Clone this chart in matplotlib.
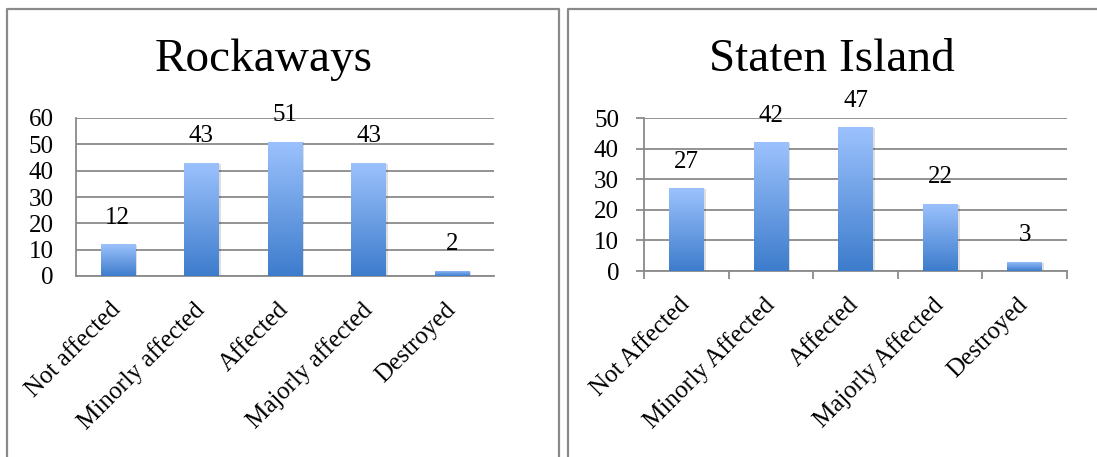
import numpy as np
import matplotlib
matplotlib.use("Agg")
import matplotlib.pyplot as plt
from matplotlib.colors import LinearSegmentedColormap
from matplotlib.lines import Line2D
from matplotlib.patches import Rectangle

# Survey of housing damage after the storm
rock_categories = ["Not affected", "Minorly affected", "Affected", "Majorly affected", "Destroyed"]
rock_values = [12, 43, 51, 43, 2]
rock_ticks = [0, 10, 20, 30, 40, 50, 60]

staten_categories = ["Not Affected", "Minorly Affected", "Affected", "Majorly Affected", "Destroyed"]
staten_values = [27, 42, 47, 22, 3]
staten_ticks = [0, 10, 20, 30, 40, 50]

W, H = 1097, 457
DPI = 100
fig = plt.figure(figsize=(W / DPI, H / DPI), dpi=DPI)
fig.patch.set_facecolor("white")

SERIF = ["Liberation Serif", "DejaVu Serif"]
GRAY = "#8a8a8a"
FS = 18
grad_cmap = LinearSegmentedColormap.from_list("bar", ["#3d7ccc", "#9cc2fd"])


def px_axes(x0, y0, x1, y1):
    return fig.add_axes([x0 / W, 1 - y1 / H, (x1 - x0) / W, (y1 - y0) / H])


def gradient_bars(ax, values):
    x = np.arange(len(values))
    bars = ax.bar(x, values, width=0.41, color="none", edgecolor="none", zorder=3)
    grad = np.linspace(0, 1, 256).reshape(-1, 1)
    for b, v in zip(bars, values):
        x0 = b.get_x()
        w = b.get_width()
        # soft drop shadow
        ax.add_patch(Rectangle((x0 + 0.025, -0.3), w, v, facecolor="#000000",
                               alpha=0.13, edgecolor="none", zorder=2.5))
        im = ax.imshow(grad, cmap=grad_cmap, origin="lower", aspect="auto",
                       extent=[x0, x0 + w, 0, v], zorder=3, interpolation="bilinear")
        im.set_clip_path(b)
        ax.annotate(str(v), xy=(b.get_x() + w / 2, v), xytext=(0, 19),
                    textcoords="offset points", ha="center", va="center",
                    fontsize=FS, family=SERIF, color="black", zorder=5)
    return bars


def style_axes(ax, categories, ticks, ymax, ytick_marks, xtick_marks):
    ax.set_xlim(-0.5, len(categories) - 0.5)
    ax.set_ylim(0, ymax)
    ax.set_yticks(ticks)
    ax.set_yticklabels([str(t) for t in ticks], family=SERIF, fontsize=FS)
    ax.yaxis.grid(True, color=GRAY, linewidth=1.3, zorder=0)
    ax.set_axisbelow(True)
    for s in ["top", "right"]:
        ax.spines[s].set_visible(False)
    for s in ["left", "bottom"]:
        ax.spines[s].set_color(GRAY)
        ax.spines[s].set_linewidth(1.3)
    ax.set_xticks(np.arange(len(categories)))
    ax.set_xticklabels(categories, rotation=45, ha="right", va="center",
                       rotation_mode="anchor", family=SERIF, fontsize=FS)
    ax.tick_params(axis="x", which="major", length=0, pad=22)
    if ytick_marks:
        ax.tick_params(axis="y", length=6, width=1.3, color=GRAY, pad=12)
    else:
        ax.tick_params(axis="y", length=0, pad=16)
    if xtick_marks:
        ax.set_xticks(np.arange(len(categories) + 1) - 0.5, minor=True)
        ax.tick_params(axis="x", which="minor", length=6, width=1.3, color=GRAY, direction="out")


# Rockaways panel
ax1 = px_axes(76, 118, 494, 276)
gradient_bars(ax1, rock_values)
style_axes(ax1, rock_categories, rock_ticks, 60, False, False)
fig.text(264 / W, 1 - 60 / H, "Rockaways", ha="center", va="center",
         fontsize=34, family=SERIF)

# Staten Island panel
ax2 = px_axes(644, 118, 1067, 271)
gradient_bars(ax2, staten_values)
style_axes(ax2, staten_categories, staten_ticks, 50, True, True)
fig.text(832 / W, 1 - 60 / H, "Staten Island", ha="center", va="center",
         fontsize=34, family=SERIF)

# Chart frames
def frame_line(xs, ys):
    fig.add_artist(Line2D([x / W for x in xs], [1 - y / H for y in ys],
                          color=GRAY, linewidth=1.6, transform=fig.transFigure))

frame_line([7, 7, 559, 559], [H + 2, 9, 9, H + 2])
frame_line([568, 568, W + 2], [H + 2, 9, 9])

fig.savefig("out.png", dpi=DPI)
